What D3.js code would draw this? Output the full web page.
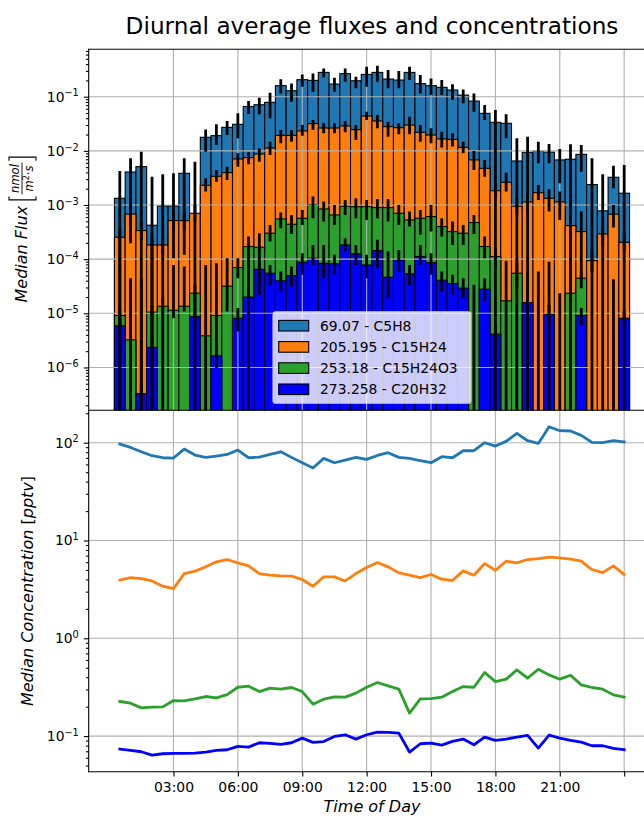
<!DOCTYPE html>
<html>
<head>
<meta charset="utf-8">
<script src="https://cdn.jsdelivr.net/npm/d3@7"></script>
<style>
  body { margin: 0; background: #fff; }
  svg { display: block; }
  text { font-family: "DejaVu Sans", sans-serif; fill: #000; }
</style>
</head>
<body>
<svg id="chart" width="644" height="818"></svg>
<script>
// ---- time axis (half-hour bins, hour of day) ----
const hours = [0.5,1,1.5,2,2.5,3,3.5,4,4.5,5,5.5,6,6.5,7,7.5,8,8.5,9,9.5,10,10.5,11,11.5,12,
               12.5,13,13.5,14,14.5,15,15.5,16,16.5,17,17.5,18,18.5,19,19.5,20,20.5,21,21.5,22,22.5,23,23.5,24];
const tickHours = [3, 6, 9, 12, 15, 18, 21, 24];
const tickLabels = ["03:00", "06:00", "09:00", "12:00", "15:00", "18:00", "21:00", ""];

const speciesNames = ["69.07 - C5H8", "205.195 - C15H24", "253.18 - C15H24O3", "273.258 - C20H32"];
const speciesColors = ["#1f77b4", "#ff7f0e", "#2ca02c", "#0000ff"];

// ---- median fluxes [nmol m-2 s-1]; null = median at or below zero ----
const fluxC5H8 = [1.33e-3,4.07e-3,5.11e-3,4.23e-4,9.6e-4,9.6e-4,3.85e-3,2.5e-4,1.78e-2,1.91e-2,2.72e-2,3.09e-2,
  6.6e-2,7.1e-2,7.86e-2,0.160,0.129,0.206,0.200,0.281,0.171,0.266,0.197,0.258,
  0.281,0.212,0.203,0.281,0.174,0.160,0.149,0.133,0.107,8.3e-2,4.93e-2,3.36e-2,
  3.22e-2,6.5e-3,9.4e-3,9.9e-3,9.5e-3,6.8e-3,7.0e-3,8.6e-3,2.38e-3,7.8e-4,3.25e-3,1.65e-3];
const fluxC15H24 = [2.54e-4,6.8e-4,3.37e-4,1.83e-4,1.83e-4,5.15e-4,5.15e-4,7.04e-4,2.31e-3,3.39e-3,3.96e-3,7.08e-3,
  7.49e-3,8.75e-3,1.13e-2,1.93e-2,1.93e-2,2.33e-2,3.18e-2,2.64e-2,2.64e-2,2.88e-2,2.46e-2,4.40e-2,
  3.56e-2,2.80e-2,2.68e-2,3.0e-2,2.20e-2,1.96e-2,1.66e-2,1.63e-2,1.16e-2,6.8e-3,4.76e-3,1.84e-3,
  2.63e-3,9.5e-4,1.14e-3,1.69e-3,1.33e-3,1.14e-3,4.17e-4,3.23e-4,9.4e-5,2.92e-4,6.75e-4,2.05e-4];
const fluxC15H24O3 = [9.1e-6,3.24e-6,null,1.05e-5,1.35e-5,1.14e-5,1.35e-5,2.35e-5,3.84e-6,9.1e-6,3.17e-5,7.0e-5,
  1.71e-4,1.66e-4,3.01e-4,5.53e-4,4.41e-4,5.69e-4,1.02e-3,8.46e-4,6.56e-4,9.5e-4,9.3e-4,9.3e-4,
  8.95e-4,8.95e-4,7.04e-4,5.3e-4,5.69e-4,6.11e-4,4.0e-4,3.23e-4,3.01e-4,4.74e-4,1.71e-4,1.12e-4,
  1.70e-5,5.5e-5,null,null,null,null,2.35e-5,4.45e-5,null,null,null,null];
const fluxC20H32 = [5.87e-6,null,3.27e-7,2.34e-6,null,null,null,8.7e-6,null,1.64e-6,null,8.1e-6,
  1.99e-5,6.5e-5,5.5e-5,3.97e-5,4.98e-5,8.8e-5,1.04e-4,8.4e-5,8.2e-5,1.83e-4,1.25e-4,7.8e-5,
  1.44e-4,4.64e-5,9.7e-5,5.35e-5,1.12e-4,8.65e-5,4.08e-5,3.55e-5,2.91e-5,null,2.79e-5,4.12e-6,
  null,null,1.58e-5,null,9.6e-6,null,null,9.1e-6,null,null,null,8.1e-6];

// ---- error bar ends (upper / lower); 0 = lower end at or below zero ----
const fluxHiC5H8 = [4.25e-3,7.28e-3,9.66e-3,3.34e-3,3.69e-3,3.85e-3,7.28e-3,6.32e-3,2.49e-2,3.09e-2,3.56e-2,4.93e-2,
  8.32e-2,9.59e-2,0.1186,0.209,0.176,0.258,0.269,0.333,0.224,0.333,0.234,0.358,
  0.373,0.31,0.297,0.358,0.251,0.218,0.203,0.169,0.1365,0.115,7.02e-2,5.67e-2,
  4.72e-2,1.70e-2,1.83e-2,1.48e-2,1.34e-2,1.08e-2,1.32e-2,1.28e-2,7.28e-3,3.69e-3,5.33e-3,5.48e-3];
const fluxLoC5H8 = [0,1.97e-4,0,0,0,1.04e-4,1.2e-4,0,9.66e-3,1.28e-2,1.96e-2,1.70e-2,
  4.79e-2,4.72e-2,3.98e-2,0.115,8.09e-2,0.153,0.1236,0.227,0.1236,0.189,0.1425,0.153,
  0.189,0.1425,0.1425,0.203,0.115,0.107,0.107,8.68e-2,7.53e-2,5.29e-2,3.71e-2,0,
  1.70e-2,0,0,5.89e-3,5.89e-3,2.52e-3,0,4.13e-3,0,0,2.04e-3,0];
const fluxHiC15H24 = [3.72e-4,9.3e-4,4.94e-4,2.61e-4,2.61e-4,7.55e-4,7.55e-4,1.0e-3,3.11e-3,4.44e-3,5.11e-3,9.0e-3,
  9.4e-3,1.11e-2,1.48e-2,2.43e-2,2.43e-2,3.0e-2,3.71e-2,3.22e-2,3.22e-2,3.56e-2,3.0e-2,5.29e-2,
  4.59e-2,3.46e-2,3.22e-2,4.28e-2,3.0e-2,2.61e-2,2.26e-2,2.11e-2,1.48e-2,9.94e-3,6.78e-3,2.52e-3,
  3.96e-3,1.33e-3,1.53e-3,2.34e-3,1.95e-3,1.77e-3,5.69e-4,7.55e-4,1.38e-4,4.29e-4,1.0e-3,3.01e-4];
const fluxLoC15H24 = [0,4.94e-4,2.27e-4,0,1.2e-4,3.47e-4,3.47e-4,4.94e-4,1.77e-3,2.7e-3,2.9e-3,5.11e-3,
  5.65e-3,6.32e-3,8.4e-3,1.38e-2,1.48e-2,1.91e-2,2.43e-2,2.11e-2,2.11e-2,2.2e-2,1.59e-2,3.71e-2,
  2.61e-2,1.83e-2,2.02e-2,2.02e-2,1.48e-2,1.38e-2,1.15e-2,1.2e-2,9.0e-3,4.44e-3,3.34e-3,1.33e-3,
  1.77e-3,6.56e-4,8.1e-4,1.24e-3,7.55e-4,5.3e-4,2.81e-4,4.45e-5,5.9e-5,1.83e-4,3.83e-4,1.38e-4];
const fluxHiC15H24O3 = [1.25e-5,4.45e-5,4.45e-5,1.43e-5,1.9e-5,7.8e-5,7.3e-5,3.35e-5,7.8e-5,8.4e-5,1.04e-4,1.04e-4,
  2.61e-4,3.01e-4,4.29e-4,7.24e-4,6.56e-4,8.1e-4,1.43e-3,1.16e-3,1.0e-3,1.24e-3,1.33e-3,1.24e-3,
  1.29e-3,1.29e-3,1.0e-3,7.55e-4,8.1e-4,1.0e-3,5.69e-4,4.94e-4,4.29e-4,6.56e-4,2.61e-4,1.59e-4,
  9.3e-5,9.0e-5,5.9e-5,5.9e-5,9.0e-5,2.35e-5,3.35e-5,5.9e-5,null,null,4.27e-5,null];
const fluxLoC15H24O3 = [6.1e-6,0,0,7.1e-6,9.4e-6,8.1e-6,1.08e-5,1.43e-5,0,1.7e-6,1.08e-5,4.45e-5,
  0,2.19e-5,2.11e-4,3.72e-4,2.9e-4,4.29e-4,5.69e-4,4.94e-4,4.29e-4,6.56e-4,5.69e-4,5.3e-4,
  5.69e-4,4.94e-4,4.29e-4,4.0e-4,2.81e-4,3.23e-4,2.61e-4,1.83e-4,1.83e-4,2.92e-4,1.04e-4,6.8e-5,
  0,2.9e-5,0,0,0,0,1.43e-5,2.91e-5,null,null,0,null];
const fluxHiC20H32 = [8.1e-6,null,4.8e-7,4.0e-6,null,null,null,1.25e-5,null,2.62e-6,null,1.25e-5,
  2.91e-5,9.0e-5,7.8e-5,5.9e-5,7.3e-5,1.29e-4,1.83e-4,1.83e-4,1.2e-4,2.43e-4,1.83e-4,1.2e-4,
  2.27e-4,1.38e-4,1.48e-4,7.8e-5,1.83e-4,1.29e-4,5.9e-5,5.13e-5,4.45e-5,3.35e-5,4.45e-5,6.1e-6,
  null,null,2.35e-5,null,1.43e-5,null,null,1.25e-5,null,null,null,1.16e-5];
const fluxLoC20H32 = [4.0e-6,null,0,1.29e-6,null,null,null,5.3e-6,null,9.7e-7,null,4.6e-6,
  1.25e-5,4.45e-5,3.35e-5,2.52e-5,3.12e-5,5.13e-5,7.8e-5,4.45e-5,5.13e-5,1.38e-4,7.8e-5,4.45e-5,
  6.8e-5,1.9e-5,5.9e-5,3.35e-5,7.8e-5,5.13e-5,2.52e-5,2.19e-5,1.9e-5,0,1.65e-5,2.62e-6,
  null,null,1.08e-5,null,6.1e-6,null,null,6.1e-6,null,null,null,5.3e-6];

// ---- median concentrations [pptv] ----
const concC5H8 = [96.9,89.5,80.8,73.6,70.2,69.7,86.1,74.8,70.8,73.0,75.9,84.1,70.2,71.3,75.9,80.8,70.8,62.4,55.1,69.2,
  62.4,66.4,70.8,67.5,74.1,79.0,70.8,69.2,65.4,62.4,71.9,70.2,82.8,82.8,100,92.4,103.2,124.6,104.8,98.4,
  145.8,132.7,131.7,118.9,100.8,100,104.8,101.6];
const concC15H24 = [3.93,4.18,4.08,3.86,3.41,3.22,4.59,4.85,5.38,6.05,6.39,5.91,5.50,4.59,4.42,4.35,4.32,3.99,3.41,4.25,
  4.25,3.86,4.59,5.29,5.95,5.38,4.67,4.42,4.18,4.49,4.02,3.90,4.89,4.42,5.81,4.97,6.14,5.91,6.39,6.54,
  6.75,6.65,6.44,6.14,5.05,4.70,5.50,4.49];
const concC15H24O3 = [0.226,0.217,0.1945,0.1977,0.199,0.231,0.229,0.240,0.254,0.246,0.266,0.316,0.324,0.2855,0.309,0.302,0.314,0.2855,0.212,0.2385,
  0.252,0.250,0.275,0.316,0.353,0.326,0.302,0.172,0.240,0.242,0.250,0.2855,0.321,0.316,0.447,0.361,0.382,0.475,0.391,0.483,
  0.4225,0.382,0.419,0.334,0.314,0.302,0.264,0.250];
const concC20H32 = [0.0737,0.0714,0.0692,0.064,0.066,0.0666,0.0666,0.0671,0.0687,0.0714,0.0725,0.0784,0.0772,0.0855,0.0842,0.0822,0.0855,0.0954,0.0862,0.088,
  0.0992,0.1032,0.0932,0.1032,0.1099,0.109,0.1073,0.0687,0.0835,0.0848,0.081,0.0882,0.0932,0.0816,0.0977,0.0903,0.0932,0.0977,0.1016,0.0755,
  0.1023,0.0954,0.0903,0.0869,0.0797,0.0797,0.0748,0.0725];

// ---- layout ----
const svg = d3.select("#chart");
const FS = 13.9, LABEL_FS = 16;
const L = 88.7, R = 655.3;
const T = { t: 49.3, b: 410.3 };   // flux panel
const B = { t: 410.3, b: 771.7 };  // concentration panel

const x = d3.scaleLinear().domain([-0.95, 25.45]).range([L, R]);
const yF = d3.scaleLog().domain([1.617e-7, 0.7506]).range([T.b, T.t]);
const yC = d3.scaleLog().domain([0.04325, 214.5]).range([B.b, B.t]);

const fluxSeries = [
  { val: fluxC5H8, hi: fluxHiC5H8, lo: fluxLoC5H8 },
  { val: fluxC15H24, hi: fluxHiC15H24, lo: fluxLoC15H24 },
  { val: fluxC15H24O3, hi: fluxHiC15H24O3, lo: fluxLoC15H24O3 },
  { val: fluxC20H32, hi: fluxHiC20H32, lo: fluxLoC20H32 }
].map((s, k) => ({ ...s, color: speciesColors[k], name: speciesNames[k] }));
const concSeries = [concC5H8, concC15H24, concC15H24O3, concC20H32];

const defs = svg.append("defs");
defs.append("clipPath").attr("id", "clipT").append("rect")
  .attr("x", L).attr("y", T.t).attr("width", R - L).attr("height", T.b - T.t);
defs.append("clipPath").attr("id", "clipB").append("rect")
  .attr("x", L).attr("y", B.t).attr("width", R - L).attr("height", B.b - B.t);

function decades(scale) {
  const [a, b] = scale.domain();
  const out = [];
  for (let e = Math.ceil(Math.log10(a)); e <= Math.floor(Math.log10(b)); e++) out.push(Math.pow(10, e));
  return out;
}
function minors(scale) {
  const [a, b] = scale.domain();
  const out = [];
  for (let e = Math.floor(Math.log10(a)); e <= Math.ceil(Math.log10(b)); e++)
    for (let k = 2; k <= 9; k++) { const v = k * Math.pow(10, e); if (v >= a && v <= b) out.push(v); }
  return out;
}

function grid(g, yScale, box) {
  g.append("g").selectAll("line").data(tickHours).join("line")
    .attr("x1", d => x(d)).attr("x2", d => x(d)).attr("y1", box.t).attr("y2", box.b)
    .attr("stroke", "#b0b0b0").attr("stroke-width", 1.1);
  g.append("g").selectAll("line").data(decades(yScale)).join("line")
    .attr("x1", L).attr("x2", R).attr("y1", d => yScale(d)).attr("y2", d => yScale(d))
    .attr("stroke", "#b0b0b0").attr("stroke-width", 1.1);
}

function yAxis(yScale) {
  const g = svg.append("g").attr("transform", `translate(${L},0)`);
  g.call(d3.axisLeft(yScale).tickValues(minors(yScale)).tickSize(2.8).tickSizeOuter(0).tickFormat(""));
  const gm = svg.append("g").attr("transform", `translate(${L},0)`);
  gm.call(d3.axisLeft(yScale).tickValues(decades(yScale)).tickSize(4.9).tickPadding(5).tickSizeOuter(0));
  [g, gm].forEach(a => { a.select(".domain").remove(); a.selectAll(".tick line").attr("stroke", "#000").attr("stroke-width", 1.1); });
  gm.selectAll(".tick text").attr("font-size", FS).attr("font-family", "DejaVu Sans").each(function (d) {
    const e = Math.round(Math.log10(d));
    const t = d3.select(this).text(null);
    t.append("tspan").text("10");
    t.append("tspan").attr("font-size", FS * 0.7).attr("dy", -5.2).text(e < 0 ? "\u2212" + (-e) : String(e));
  });
}

// ---- flux panel ----
const gT = svg.append("g").attr("clip-path", "url(#clipT)");
const barW = x(0.25) - x(-0.25);
fluxSeries.forEach(s => {
  gT.append("g").selectAll("rect")
    .data(hours.map((h, i) => ({ h, v: s.val[i] })).filter(d => d.v != null && d.v > 0))
    .join("rect")
    .attr("x", d => x(d.h) - barW / 2).attr("width", barW)
    .attr("y", d => yF(d.v)).attr("height", d => T.b + 3 - yF(d.v))
    .attr("fill", s.color).attr("stroke", "#000").attr("stroke-width", 1.1);
});
grid(gT, yF, T);
fluxSeries.forEach(s => {
  gT.append("g").selectAll("line")
    .data(hours.map((h, i) => ({ h, hi: s.hi[i], lo: s.lo[i] })).filter(d => d.hi != null && d.hi > 0))
    .join("line")
    .attr("x1", d => x(d.h)).attr("x2", d => x(d.h))
    .attr("y1", d => yF(d.hi)).attr("y2", d => (d.lo > 0 ? yF(d.lo) : T.b + 5))
    .attr("stroke", "#000").attr("stroke-width", 2.8);
});

// ---- concentration panel ----
const gB = svg.append("g").attr("clip-path", "url(#clipB)");
grid(gB, yC, B);
const line = d3.line().x((d, i) => x(hours[i])).y(d => yC(d));
concSeries.forEach((vals, k) => {
  gB.append("path").datum(vals).attr("d", line)
    .attr("fill", "none").attr("stroke", speciesColors[k]).attr("stroke-width", 2.8)
    .attr("stroke-linejoin", "round").attr("stroke-linecap", "square");
});

// ---- axes ----
yAxis(yF);
yAxis(yC);
const xa = svg.append("g").attr("transform", `translate(0,${B.b})`)
  .call(d3.axisBottom(x).tickValues(tickHours).tickFormat((d, i) => tickLabels[i]).tickSize(4.9).tickPadding(5.5).tickSizeOuter(0));
xa.select(".domain").remove();
xa.selectAll(".tick line").attr("stroke", "#000").attr("stroke-width", 1.1);
xa.selectAll(".tick text").attr("font-size", FS).attr("font-family", "DejaVu Sans");

// spines
const spine = (x1, y1, x2, y2) => svg.append("line").attr("x1", x1).attr("y1", y1).attr("x2", x2).attr("y2", y2)
  .attr("stroke", "#000").attr("stroke-width", 1.1).attr("stroke-linecap", "square");
spine(L, T.t, L, B.b);
spine(L, T.t, R, T.t);
spine(L, T.b, R, T.b);
spine(L, B.b, R, B.b);
spine(R, T.t, R, B.b);

// ---- legend ----
const lg = svg.append("g");
lg.append("rect").attr("x", 273).attr("y", 311.7).attr("width", 198).attr("height", 91.6).attr("rx", 2.8)
  .attr("fill", "#fff").attr("fill-opacity", 0.8).attr("stroke", "#cccccc").attr("stroke-width", 1.1);
speciesNames.forEach((name, k) => {
  const cy = 325.7 + k * 21.2;
  lg.append("rect").attr("x", 278.7).attr("y", cy - 5.3).attr("width", 30).attr("height", 10.6)
    .attr("fill", speciesColors[k]).attr("stroke", "#000").attr("stroke-width", 1.1);
  lg.append("text").attr("x", 320).attr("y", cy + 5).attr("font-size", FS).text(name);
});

// ---- titles and labels ----
svg.append("text").attr("x", (L + R) / 2).attr("y", 33.5).attr("text-anchor", "middle")
  .attr("font-size", 23.2).text("Diurnal average fluxes and concentrations");

svg.append("text").attr("x", (L + R) / 2).attr("y", 812).attr("text-anchor", "middle")
  .attr("font-size", LABEL_FS).attr("font-style", "italic").text("Time of Day");

(function () {
  const g = svg.append("g").attr("transform", `translate(32.5,${(B.t + B.b) / 2}) rotate(-90)`);
  const t = g.append("text").attr("text-anchor", "middle").attr("font-size", LABEL_FS);
  t.append("tspan").attr("font-style", "italic").text("Median Concentration ");
  t.append("tspan").text("[");
  t.append("tspan").attr("font-style", "italic").text("pptv");
  t.append("tspan").text("]");
})();

(function () {
  const g = svg.append("g").attr("transform", `translate(0,${(T.t + T.b) / 2}) rotate(-90)`);
  const base = 27, fsf = 11.5;
  const t1 = g.append("text").attr("y", base).attr("font-size", LABEL_FS).attr("font-style", "italic").text("Median Flux");
  const num = g.append("text").attr("y", base - 8.5).attr("font-size", fsf).attr("font-style", "italic")
    .attr("text-anchor", "middle").text("nmol");
  const den = g.append("text").attr("y", base + 6).attr("font-size", fsf).attr("text-anchor", "middle");
  den.append("tspan").attr("font-style", "italic").text("m");
  den.append("tspan").attr("font-size", fsf * 0.7).attr("dy", -4).text("2");
  den.append("tspan").attr("dy", 4).text("\u00b7");
  den.append("tspan").attr("font-style", "italic").text("s");
  const w1 = t1.node().getComputedTextLength();
  const fw = Math.max(num.node().getComputedTextLength(), den.node().getComputedTextLength()) + 3;
  const brW = 3.5, gap = 6, pad = 2;
  const total = w1 + gap + brW + pad + fw + pad + brW;
  const x0 = -total / 2;
  t1.attr("x", x0);
  const yTop = base - 18, yBot = base + 9;
  let bx = x0 + w1 + gap;
  g.append("path").attr("d", `M${bx + brW},${yTop}H${bx}V${yBot}H${bx + brW}`)
    .attr("fill", "none").attr("stroke", "#000").attr("stroke-width", 1.1);
  const cx = bx + brW + pad + fw / 2;
  num.attr("x", cx); den.attr("x", cx);
  g.append("line").attr("x1", cx - fw / 2).attr("x2", cx + fw / 2).attr("y1", base - 5).attr("y2", base - 5)
    .attr("stroke", "#000").attr("stroke-width", 0.9);
  bx = cx + fw / 2 + pad;
  g.append("path").attr("d", `M${bx},${yTop}H${bx + brW}V${yBot}H${bx}`)
    .attr("fill", "none").attr("stroke", "#000").attr("stroke-width", 1.1);
})();
</script>
</body>
</html>
